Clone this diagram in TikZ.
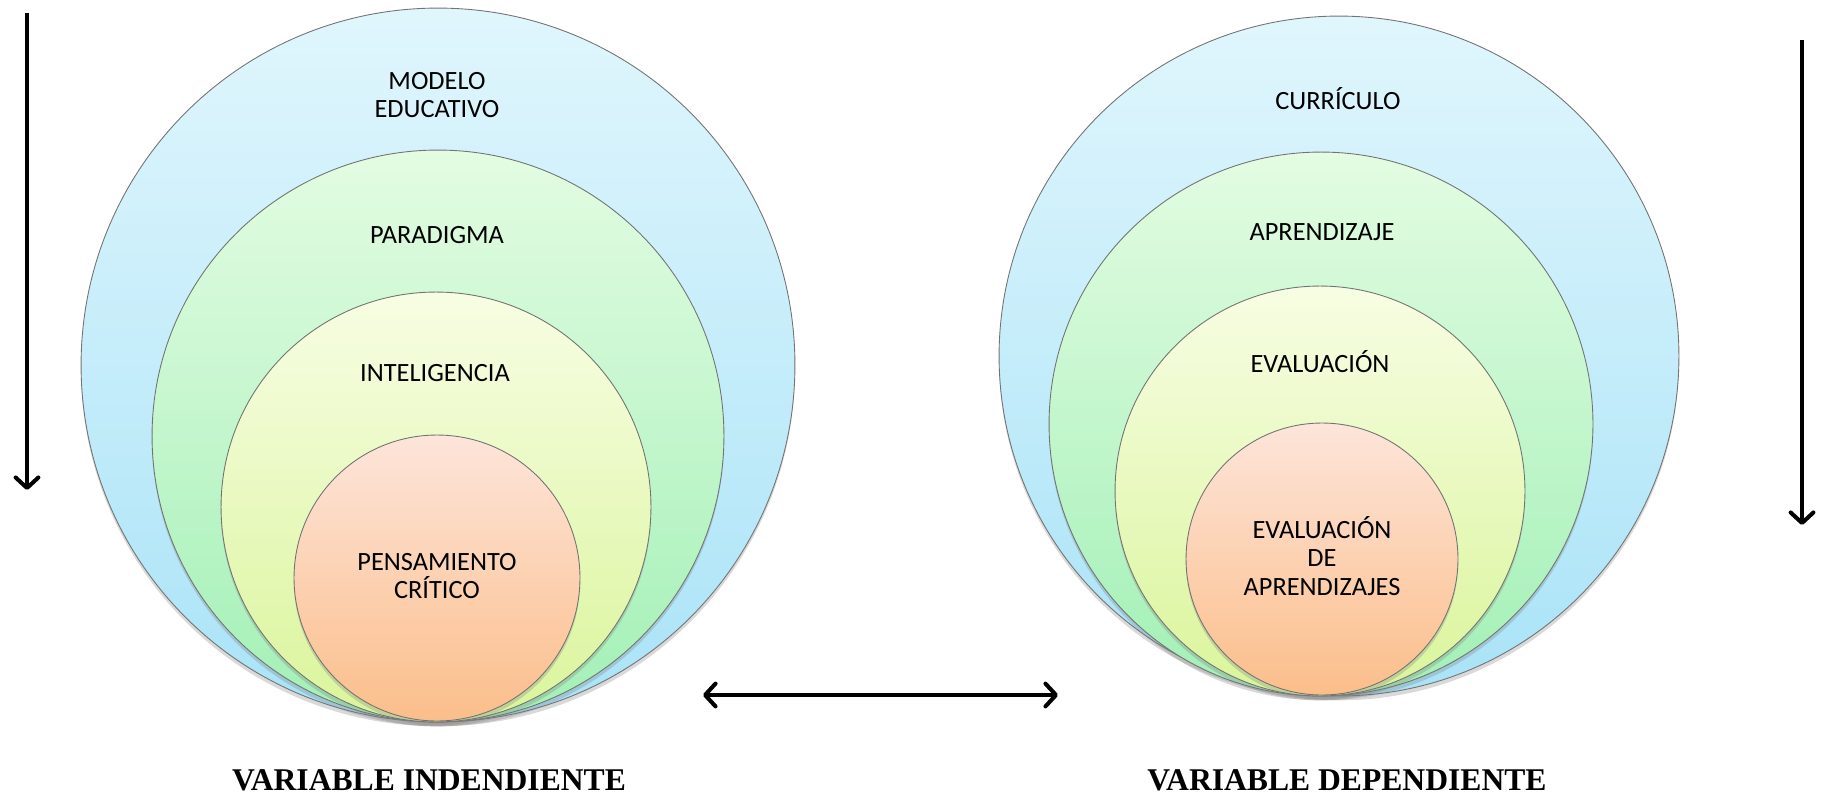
\documentclass[tikz,border=0pt]{standalone}
\usepackage{fontspec}
\setmainfont{Liberation Serif}
\newfontfamily\calibri{Carlito}
\usetikzlibrary{arrows.meta,shadows}

\definecolor{azulA}{HTML}{E0F6FD}
\definecolor{azulB}{HTML}{A9E3F7}
\definecolor{verdeA}{HTML}{E3FCE2}
\definecolor{verdeB}{HTML}{A2F0B6}
\definecolor{amarA}{HTML}{F7FDE3}
\definecolor{amarB}{HTML}{DAF59B}
\definecolor{naranA}{HTML}{FDE5DA}
\definecolor{naranB}{HTML}{FBBE8A}

\begin{document}
\begin{tikzpicture}[x=0.02cm,y=-0.02cm,>={Straight Barb[length=6pt,width=13pt,round]},
	capa/.style={shape=circle,draw=gray!90!black,line width=0.5pt,inner sep=0pt,outer sep=0pt,
		drop shadow={opacity=0.3,shadow xshift=0pt,shadow yshift=-2.5pt}},
	rotulo/.style={font=\calibri\fontsize{15}{16.3}\selectfont,align=center,inner sep=0pt},
	titulo/.style={font=\bfseries\fontsize{18}{20}\selectfont,inner sep=0pt},
	flecha/.style={line width=2.3pt}]
	\useasboundingbox (0,0) rectangle (1822,798);

	% variable independiente
	\node[capa,minimum size=14.28cm,top color=azulA,bottom color=azulB] (vi1) at (438,365) {};
	\node[capa,minimum size=11.44cm,top color=verdeA,bottom color=verdeB] (vi2) at (438,436) {};
	\node[capa,minimum size=8.6cm,top color=amarA,bottom color=amarB] (vi3) at (436,507) {};
	\node[capa,minimum size=5.72cm,top color=naranA,bottom color=naranB] (vi4) at (437,578) {};

	\node[rotulo] (tvi1) at (437,95) {MODELO\\EDUCATIVO};
	\node[rotulo] (tvi2) at (437,235) {PARADIGMA};
	\node[rotulo] (tvi3) at (435,373) {INTELIGENCIA};
	\node[rotulo] (tvi4) at (437,576) {PENSAMIENTO\\CRÍTICO};

	% variable dependiente
	\node[capa,minimum size=13.6cm,top color=azulA,bottom color=azulB] (vd1) at (1339,356) {};
	\node[capa,minimum size=10.88cm,top color=verdeA,bottom color=verdeB] (vd2) at (1321,424) {};
	\node[capa,minimum size=8.2cm,top color=amarA,bottom color=amarB] (vd3) at (1320,491) {};
	\node[capa,minimum size=5.44cm,top color=naranA,bottom color=naranB] (vd4) at (1322,559) {};

	\node[rotulo] (tvd1) at (1338,99) {CURRÍCULO};
	\node[rotulo] (tvd2) at (1322,232) {APRENDIZAJE};
	\node[rotulo] (tvd3) at (1320,362) {EVALUACIÓN};
	\node[rotulo] (tvd4) at (1322,556) {EVALUACIÓN\\DE\\APRENDIZAJES};

	\node[titulo] (vi) at (429,780) {VARIABLE INDENDIENTE};
	\node[titulo] (vd) at (1347,780) {VARIABLE DEPENDIENTE};

	% flechas
	\coordinate (fi1) at (27,13);
	\coordinate (fi2) at (27,490);
	\coordinate (fd1) at (1802,40);
	\coordinate (fd2) at (1802,525);
	\coordinate (fh1) at (703,695);
	\coordinate (fh2) at (1058,695);

	\draw[flecha,->] (fi1) -- (fi2);
	\draw[flecha,->] (fd1) -- (fd2);
	\draw[flecha,<->] (fh1) -- (fh2);
\end{tikzpicture}
\end{document}
